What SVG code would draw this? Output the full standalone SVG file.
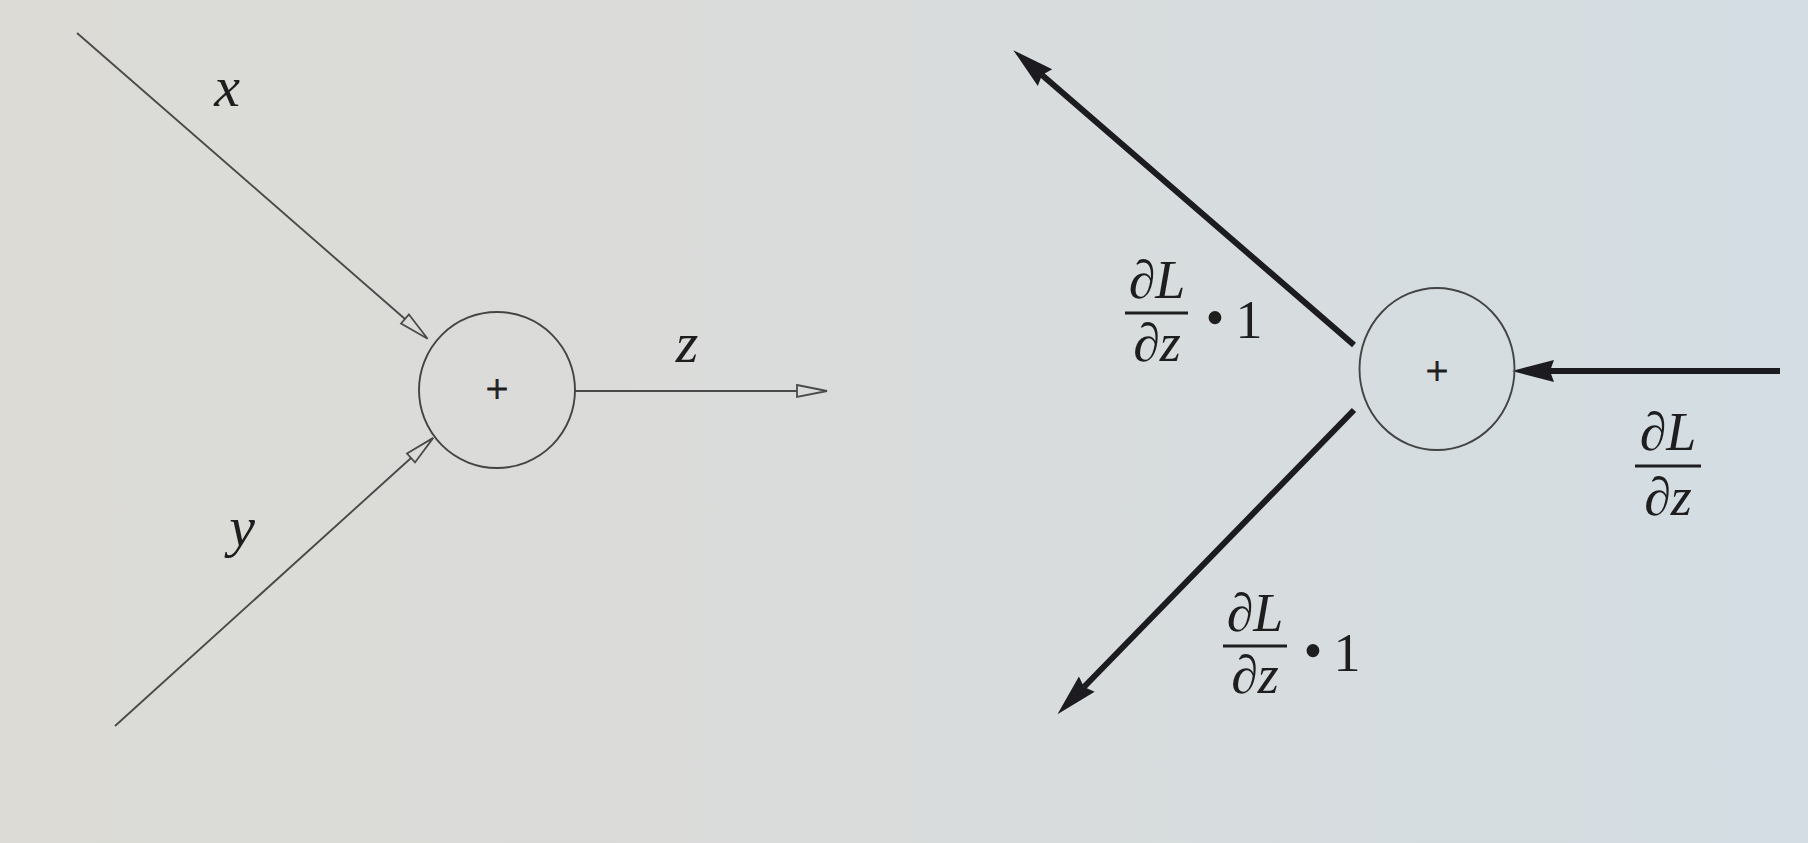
<svg xmlns="http://www.w3.org/2000/svg" width="1808" height="843" viewBox="0 0 1808 843">
<defs>
<linearGradient id="bg" x1="0" y1="0" x2="1" y2="0">
<stop offset="0" stop-color="#dcdbd6"/>
<stop offset="0.45" stop-color="#dadcdb"/>
<stop offset="1" stop-color="#d3dde3"/>
</linearGradient>
<marker id="hollow" markerUnits="userSpaceOnUse" markerWidth="34" markerHeight="16" viewBox="-2 -8 34 16" refX="0" refY="0" orient="auto">
<path d="M0,-6 L30,0 L0,6 Z" fill="none" stroke="#4a4a4a" stroke-width="1.8" stroke-linejoin="miter"/>
</marker>
<marker id="solid" markerUnits="userSpaceOnUse" markerWidth="46" markerHeight="28" viewBox="-2 -14 46 28" refX="4" refY="0" orient="auto">
<path d="M0,-11 L42,0 L0,11 L4,0 Z" fill="#1c1c20"/>
</marker>
<style>
.fwd{stroke:#4a4a4a;stroke-width:1.9;fill:none}
.bwd{stroke:#1c1c20;stroke-width:6;fill:none}
.node{fill:none;stroke:#444;stroke-width:1.9}
.var{font-family:"Liberation Serif",serif;font-style:italic;font-size:58px;fill:#1e1e1e}
.frac{font-family:"Liberation Serif",serif;font-size:54px;fill:#1e1e1e}
.it{font-style:italic}
.plus{font-family:"Liberation Serif",serif;font-size:40px;fill:#1e1e1e;stroke:#1e1e1e;stroke-width:0.9}
.bar{stroke:#1e1e1e;stroke-width:3}
</style>
</defs>
<rect width="1808" height="843" fill="url(#bg)"/>
<g id="connectors">
<line class="fwd" x1="77" y1="33" x2="405" y2="319" marker-end="url(#hollow)"/>
<line class="fwd" x1="115" y1="726" x2="411" y2="458" marker-end="url(#hollow)"/>
<line class="fwd" x1="575" y1="391" x2="797" y2="391" marker-end="url(#hollow)"/>
<line class="bwd" x1="1354" y1="345" x2="1042" y2="75" marker-end="url(#solid)"/>
<line class="bwd" x1="1354" y1="410" x2="1084" y2="687" marker-end="url(#solid)"/>
<line class="bwd" x1="1780" y1="371" x2="1550" y2="371" marker-end="url(#solid)"/>
</g>
<g id="node-forward">
<circle class="node" cx="497" cy="390" r="78"/>
<text class="plus" x="497" y="402" text-anchor="middle">+</text>
</g>
<g id="node-backward">
<ellipse class="node" cx="1437" cy="369" rx="77.5" ry="81"/>
<text class="plus" x="1437" y="384" text-anchor="middle">+</text>
</g>
<g id="labels">
<text class="var" x="227" y="106" text-anchor="middle">x</text>
<text class="var" x="242" y="546" text-anchor="middle">y</text>
<text class="var" x="687" y="362" text-anchor="middle">z</text>
<g id="label-upper">
<text class="frac" x="1157" y="298" text-anchor="middle">∂<tspan class="it">L</tspan></text>
<line class="bar" x1="1125" y1="313" x2="1188" y2="313"/>
<text class="frac" x="1157" y="361" text-anchor="middle">∂<tspan class="it">z</tspan></text>
<text class="frac" x="1215" y="336" text-anchor="middle">•</text>
<text class="frac" x="1249" y="338" text-anchor="middle">1</text>
</g>
<g id="label-lower">
<text class="frac" x="1255" y="631" text-anchor="middle">∂<tspan class="it">L</tspan></text>
<line class="bar" x1="1223" y1="646" x2="1287" y2="646"/>
<text class="frac" x="1255" y="693" text-anchor="middle">∂<tspan class="it">z</tspan></text>
<text class="frac" x="1313" y="669" text-anchor="middle">•</text>
<text class="frac" x="1347" y="671" text-anchor="middle">1</text>
</g>
<g id="label-right">
<text class="frac" x="1668" y="450" text-anchor="middle">∂<tspan class="it">L</tspan></text>
<line class="bar" x1="1635" y1="466" x2="1701" y2="466"/>
<text class="frac" x="1668" y="515" text-anchor="middle">∂<tspan class="it">z</tspan></text>
</g>
</g>
</svg>
